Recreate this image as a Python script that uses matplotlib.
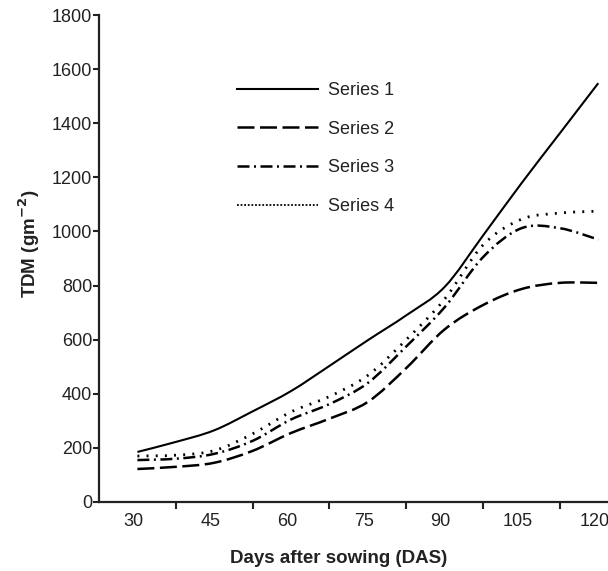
import matplotlib
matplotlib.use("Agg")
import matplotlib.pyplot as plt
import matplotlib.transforms as mtransforms
from matplotlib.lines import Line2D
from matplotlib.path import Path
from matplotlib.patches import PathPatch

plt.rcParams['font.family'] = ['Liberation Sans', 'DejaVu Sans']

# Days after sowing, read every 7.5 days off the curves
das = [30, 37.5, 45, 52.5, 60, 67.5, 75, 82.5, 90, 97.5, 105, 112.5, 120]
series1 = [185, 222, 265, 335, 410, 503, 598, 690, 795, 985, 1178, 1363, 1548]
series2 = [122, 130, 145, 189, 255, 308, 370, 495, 638, 728, 787, 810, 810]
series3 = [155, 160, 178, 226, 305, 362, 440, 575, 720, 905, 1012, 1012, 970]
series4 = [170, 173, 190, 252, 333, 390, 468, 600, 750, 950, 1045, 1068, 1075]
labels = ['Series 1', 'Series 2', 'Series 3', 'Series 4']
xticks = [30, 45, 60, 75, 90, 105, 120]
yticks = list(range(0, 2000, 200))

styles = [
    dict(lw=1.5, ls='-'),
    dict(lw=1.8, ls=(0, (6.8, 2.2))),
    dict(lw=1.8, ls=(0, (4.8, 1.8, 0.8, 1.8))),
    dict(lw=2.0, ls=(0, (0.7, 2.6))),
]


def smooth_path(xs, ys):
    # Excel-like smoothed line: Catmull-Rom segments drawn as cubic Beziers
    verts = [(xs[0], ys[0])]
    codes = [Path.MOVETO]
    n = len(xs)
    for i in range(n - 1):
        x0, y0 = (xs[i - 1], ys[i - 1]) if i > 0 else (xs[i], ys[i])
        x1, y1 = xs[i], ys[i]
        x2, y2 = xs[i + 1], ys[i + 1]
        x3, y3 = (xs[i + 2], ys[i + 2]) if i + 2 < n else (x2, y2)
        c1 = (x1 + (x2 - x0) / 6, y1 + (y2 - y0) / 6)
        c2 = (x2 - (x3 - x1) / 6, y2 - (y3 - y1) / 6)
        verts += [c1, c2, (x2, y2)]
        codes += [Path.CURVE4] * 3
    return Path(verts, codes)


fig = plt.figure(figsize=(6.08, 5.71), dpi=100)
ax = fig.add_axes([99 / 608, 69 / 571, 509 / 608, 487 / 571])

for ys, st in zip([series1, series2, series3, series4], styles):
    ax.add_patch(PathPatch(smooth_path(das, ys), fill=False, edgecolor='black',
                           lw=st['lw'], linestyle=st['ls'], capstyle='butt'))

ax.set_xlim(22.5, 121.9)
ax.set_ylim(0, 1800)
ax.set_xticks(xticks)
ax.set_xticklabels([str(t) for t in xticks])
ax.set_xticks([t + 7.5 for t in xticks[:-1]], minor=True)
ax.set_yticks(yticks)

ax.spines['top'].set_visible(False)
ax.spines['right'].set_visible(False)
for s in ['left', 'bottom']:
    ax.spines[s].set_linewidth(1.6)
    ax.spines[s].set_color('#222222')

ax.tick_params(axis='x', which='major', length=0, pad=8, labelsize=13, colors='#222222')
ax.tick_params(axis='x', which='minor', length=5, width=1.5, direction='out', color='#222222')
ax.tick_params(axis='y', which='major', length=4, width=1.5, direction='out', pad=1,
               labelsize=13, colors='#222222')

ax.set_xlabel('Days after sowing (DAS)', fontsize=13.5, fontweight='bold', color='#222222')
ax.xaxis.set_label_coords(0.47, -0.098)
ax.set_ylabel('TDM (gm$^{\\mathbf{-2}}$)', fontsize=13.5, fontweight='bold', color='#222222')
ax.yaxis.set_label_coords(-0.112, 0.53)

handles = [Line2D([], [], color='black', lw=st['lw'], linestyle=st['ls']) for st in styles[:3]]
handles.append(Line2D([], [], color='black', lw=1.3, linestyle=(0, (1, 1))))
ax.legend(handles, labels, loc='upper left', bbox_to_anchor=(237 / 608, 1 - 82 / 571),
          bbox_transform=fig.transFigure, frameon=False, fontsize=13,
          handlelength=4.5, handletextpad=0.55, labelspacing=1.2,
          borderpad=0, borderaxespad=0, labelcolor='#222222')

# x labels sit a little left of their positions in the original
fig.canvas.draw()
shift = mtransforms.ScaledTranslation(-4 / 100, 0, fig.dpi_scale_trans)
for tick in ax.xaxis.get_major_ticks():
    tick.label1.set_transform(tick.label1.get_transform() + shift)

fig.savefig('out.png', dpi=100)
